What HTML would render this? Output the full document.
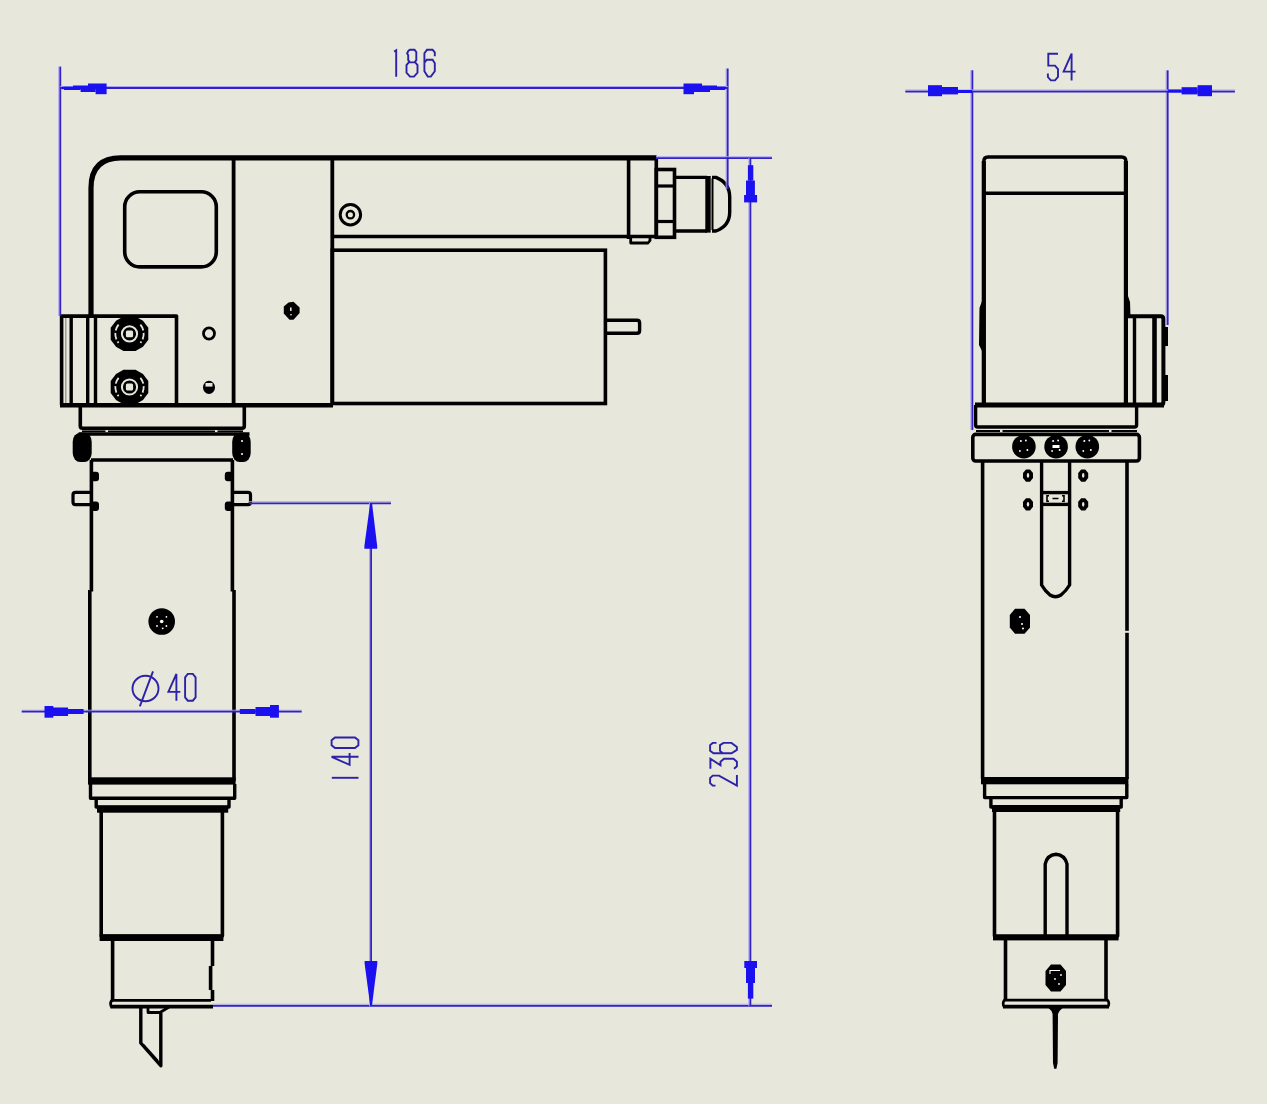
<!DOCTYPE html>
<html><head><meta charset="utf-8"><title>drawing</title>
<style>html,body{margin:0;padding:0;background:#E7E7DB;}svg{display:block;filter:blur(0.5px);}</style></head>
<body><svg width="1267" height="1104" viewBox="0 0 1267 1104">
<rect x="0" y="0" width="1267" height="1104" fill="#E7E7DB"/>
<g>
<path d="M91,316 L91,188 Q91,157.9 121,157.9 L656.5,157.9" fill="none" stroke="#000" stroke-width="5.2" stroke-linejoin="round"/>
<line x1="233.6" y1="158" x2="233.6" y2="405" stroke="#000" stroke-width="3.8"/>
<line x1="332.3" y1="158" x2="332.3" y2="405" stroke="#000" stroke-width="3.8"/>
<rect x="124.7" y="191.8" width="91.60" height="75.10" rx="15" fill="none" stroke="#000" stroke-width="3.6"/>
<line x1="332" y1="236.5" x2="656.5" y2="236.5" stroke="#000" stroke-width="3.4"/>
<line x1="656.3" y1="158" x2="656.3" y2="238" stroke="#000" stroke-width="3.6"/>
<line x1="628.6" y1="158" x2="628.6" y2="239" stroke="#000" stroke-width="3.6"/>
<path d="M630.7,238 L630.7,243 L648,243 L650,240.5 L650,238" fill="none" stroke="#000" stroke-width="2.8" stroke-linejoin="round"/>
<rect x="656.3" y="169.5" width="18.20" height="67.80" rx="0" fill="none" stroke="#000" stroke-width="3.6"/>
<line x1="656" y1="186" x2="674.5" y2="186" stroke="#000" stroke-width="3.2"/>
<line x1="656" y1="221.5" x2="674.5" y2="221.5" stroke="#000" stroke-width="3.2"/>
<path d="M674.5,177.4 L707,177.4 M674.5,231 L707,231" fill="none" stroke="#000" stroke-width="3.4" stroke-linejoin="round"/>
<rect x="705.3" y="176" width="5.40" height="56.60" fill="#000"/>
<line x1="712.5" y1="178.5" x2="712.5" y2="230" stroke="#000" stroke-width="2"/>
<path d="M712,177.4 L716,177.4 Q729.7,183 729.7,197 L729.7,212 Q729.7,226 716,231 L712,231" fill="none" stroke="#000" stroke-width="3.4" stroke-linejoin="round"/>
<rect x="332.3" y="250.2" width="273.10" height="153.30" rx="0" fill="none" stroke="#000" stroke-width="3.6"/>
<path d="M605.4,320.3 L637,320.3 Q639.6,320.3 639.6,323 L639.6,330.5 Q639.6,333.3 637,333.3 L605.4,333.3" fill="none" stroke="#000" stroke-width="3.4" stroke-linejoin="round"/>
<circle cx="350.4" cy="214.7" r="10.2" fill="none" stroke="#000" stroke-width="3"/>
<circle cx="350.4" cy="214.7" r="3.7" fill="none" stroke="#000" stroke-width="2.3"/>
<polygon fill="#000" points="288.5,302.5 293.5,301.8 299.6,307.5 299.6,313 293.5,319.8 289.5,319.8 283.8,313.5 283.8,306.5"/>
<rect x="290" y="307.5" width="1.6" height="3.5" fill="#E7E7DB"/><rect x="290.3" y="314" width="1.4" height="1.4" fill="#E7E7DB"/>
<ellipse cx="209" cy="333.5" rx="5.5" ry="5.7" fill="none" stroke="#000" stroke-width="2.8"/>
<ellipse cx="209" cy="387.4" rx="6" ry="6.6" fill="#000"/>
<rect x="205.5" y="383" width="7" height="3.6" fill="#E7E7DB"/>
<path d="M61.6,405 L61.6,316.1 L176.5,316.1 L176.5,405" fill="none" stroke="#000" stroke-width="3.6" stroke-linejoin="round"/>
<line x1="65.8" y1="318" x2="65.8" y2="403" stroke="#8a8a8a" stroke-width="1.2"/>
<line x1="71.2" y1="318" x2="71.2" y2="404" stroke="#000" stroke-width="3.4"/>
<line x1="87.7" y1="318" x2="87.7" y2="404" stroke="#000" stroke-width="3.4"/>
<line x1="95.5" y1="318" x2="95.5" y2="404" stroke="#000" stroke-width="3.4"/>
<line x1="91" y1="186" x2="91" y2="317" stroke="#000" stroke-width="3.8"/>
<path d="M123.5,316.6 L135.5,316.6 L143.0,320.8 L148.3,327.8 L148.3,339.8 L143.0,346.8 L135.5,351.0 L123.5,351.0 L116.0,346.8 L110.7,339.8 L110.7,327.8 L116.0,320.8 Z" fill="#000"/>
<path d="M118.62,324.67 A14.2,14.2 0 0 0 118.62,342.93 M140.38,324.67 A14.2,14.2 0 0 1 140.38,342.93" fill="none" stroke="#E7E7DB" stroke-width="1.8" stroke-dasharray="6.5 2.5"/>
<circle cx="129.5" cy="333.8" r="7.6" fill="none" stroke="#E7E7DB" stroke-width="2"/>
<rect x="125.9" y="330.40000000000003" width="7.2" height="6.8" rx="1.5" fill="#E7E7DB"/>
<path d="M123.5,369.8 L135.5,369.8 L143.0,374.0 L148.3,381.0 L148.3,393.0 L143.0,400.0 L135.5,404.2 L123.5,404.2 L116.0,400.0 L110.7,393.0 L110.7,381.0 L116.0,374.0 Z" fill="#000"/>
<path d="M118.62,377.87 A14.2,14.2 0 0 0 118.62,396.13 M140.38,377.87 A14.2,14.2 0 0 1 140.38,396.13" fill="none" stroke="#E7E7DB" stroke-width="1.8" stroke-dasharray="6.5 2.5"/>
<circle cx="129.5" cy="387.0" r="7.6" fill="none" stroke="#E7E7DB" stroke-width="2"/>
<rect x="125.9" y="383.6" width="7.2" height="6.8" rx="1.5" fill="#E7E7DB"/>
<line x1="60" y1="405.3" x2="333" y2="405.3" stroke="#000" stroke-width="4.6"/>
<path d="M80.3,405 L80.3,426 Q80.3,428.2 82.5,428.2 L242,428.2 Q244.3,428.2 244.3,426 L244.3,405" fill="none" stroke="#000" stroke-width="3.6" stroke-linejoin="round"/>
<line x1="82" y1="431.3" x2="105.5" y2="431.3" stroke="#000" stroke-width="1.8"/>
<line x1="108" y1="431.3" x2="215" y2="431.3" stroke="#000" stroke-width="1.8"/>
<line x1="217.5" y1="431.3" x2="243" y2="431.3" stroke="#000" stroke-width="1.8"/>
<line x1="78.6" y1="434" x2="249.5" y2="434" stroke="#000" stroke-width="3.4"/>
<line x1="91" y1="460" x2="233" y2="460" stroke="#000" stroke-width="3.6"/>
<rect x="72.7" y="432.7" width="19" height="29.4" rx="7.5" ry="9" fill="#000"/>
<rect x="232.2" y="432.7" width="18.5" height="29.4" rx="7.5" ry="9" fill="#000"/>
<circle cx="242" cy="441" r="1" fill="#fff"/><circle cx="242" cy="454" r="1" fill="#fff"/>
<line x1="91.4" y1="460" x2="91.4" y2="591.5" stroke="#000" stroke-width="3.6"/>
<line x1="232.4" y1="460" x2="232.4" y2="591.5" stroke="#000" stroke-width="3.6"/>
<line x1="89.8" y1="590" x2="89.8" y2="781" stroke="#000" stroke-width="3.6"/>
<line x1="234" y1="590" x2="234" y2="781" stroke="#000" stroke-width="3.6"/>
<rect x="91" y="471.8" width="8" height="9.5" rx="3" fill="#000"/>
<rect x="224.8" y="471.8" width="8" height="9.5" rx="3" fill="#000"/>
<rect x="91" y="501.5" width="8" height="9.5" rx="3" fill="#000"/>
<rect x="224.8" y="501.5" width="8" height="9.5" rx="3" fill="#000"/>
<path d="M91,492.4 L75.5,492.4 Q73,492.4 73,495 L73,502 Q73,504.6 75.5,504.6 L91,504.6" fill="none" stroke="#000" stroke-width="3.2" stroke-linejoin="round"/>
<path d="M233,492.4 L248,492.4 Q250.5,492.4 250.5,495 L250.5,502 Q250.5,504.6 248,504.6 L233,504.6" fill="none" stroke="#000" stroke-width="3.2" stroke-linejoin="round"/>
<circle cx="161.7" cy="621.5" r="13.3" fill="#000"/>
<circle cx="161.7" cy="621.5" r="1.8" fill="#fff"/>
<circle cx="157.0" cy="616.8" r="0.9" fill="#fff"/>
<circle cx="166.39999999999998" cy="616.8" r="0.9" fill="#fff"/>
<circle cx="157.0" cy="626.0" r="0.9" fill="#fff"/>
<circle cx="166.39999999999998" cy="626.0" r="0.9" fill="#fff"/>
<circle cx="162.7" cy="628.3" r="0.9" fill="#fff"/>
<rect x="88" y="777.3" width="147.60" height="7.30" fill="#000"/>
<path d="M90.5,784 L90.5,798.3 L234.7,798.3 L234.7,784" fill="none" stroke="#000" stroke-width="3.4" stroke-linejoin="round"/>
<path d="M96.2,798 L96.2,807 L229,807 L229,798" fill="none" stroke="#000" stroke-width="3.4" stroke-linejoin="round"/>
<rect x="97" y="805.8" width="131.20" height="6.90" fill="#000"/>
<path d="M101.2,812 L101.2,936 L222.4,936 L222.4,812" fill="none" stroke="#000" stroke-width="3.6" stroke-linejoin="round"/>
<rect x="99.6" y="934.5" width="123.80" height="6.50" fill="#000"/>
<line x1="112.6" y1="941" x2="112.6" y2="1001" stroke="#000" stroke-width="3.6"/>
<path d="M212.5,941 L212.5,966 M210.6,966 L210.6,990 M212.5,990 L212.5,1001" fill="none" stroke="#000" stroke-width="3.6" stroke-linejoin="round"/>
<line x1="112" y1="1000.4" x2="211" y2="1000.4" stroke="#000" stroke-width="2.8"/>
<line x1="110.5" y1="1006.6" x2="213" y2="1006.6" stroke="#000" stroke-width="3.8"/>
<path d="M112.5,999.5 Q108.8,1003.5 112,1007.5" fill="none" stroke="#000" stroke-width="2.8"/>
<path d="M140.8,1007 L140.8,1043 L160.8,1065.7 L160.8,1013" fill="none" stroke="#000" stroke-width="3.4" stroke-linejoin="round"/>
<line x1="143.5" y1="1044.5" x2="158" y2="1060.5" stroke="#000" stroke-width="1.3"/>
<path d="M148,1007 L148,1012.5 L160,1012.5 L169,1007" fill="none" stroke="#000" stroke-width="2.8" stroke-linejoin="round"/>
<path d="M983.8,405 L983.8,161.5 Q983.8,157 988,157 L1121.6,157 Q1125.9,157 1125.9,161.5 L1125.9,405" fill="none" stroke="#000" stroke-width="3.4" stroke-linejoin="round"/>
<line x1="983.8" y1="161" x2="983.8" y2="405" stroke="#000" stroke-width="4.2"/>
<line x1="1125.9" y1="161" x2="1125.9" y2="405" stroke="#000" stroke-width="4.2"/>
<line x1="984" y1="193.2" x2="1126" y2="193.2" stroke="#000" stroke-width="3.4"/>
<polygon fill="#000" points="982,301 979.5,308 979,345 982,351 983.5,351 983.5,301"/>
<polygon fill="#000" points="1127,293 1127,317 1130.5,317 1130,302"/>
<path d="M1126,316.2 L1160.8,316.2 Q1163.4,316.2 1163.4,319 L1163.4,402 Q1163.4,405 1160.5,405" fill="none" stroke="#000" stroke-width="4" stroke-linejoin="round"/>
<line x1="1134.5" y1="318" x2="1134.5" y2="404" stroke="#000" stroke-width="3.4"/>
<line x1="1154.5" y1="318" x2="1154.5" y2="404" stroke="#000" stroke-width="4.6"/>
<rect x="1163" y="327" width="5.00" height="19.00" fill="#000"/>
<rect x="1163" y="375" width="5.00" height="26.00" fill="#000"/>
<line x1="975" y1="405" x2="1164" y2="405" stroke="#000" stroke-width="5"/>
<path d="M975.6,405 L975.6,425 Q975.6,427 977.6,427 L1134.6,427 Q1136.6,427 1136.6,425 L1136.6,405" fill="none" stroke="#000" stroke-width="3.4" stroke-linejoin="round"/>
<line x1="976" y1="431" x2="1000" y2="431" stroke="#000" stroke-width="2"/>
<line x1="1002.5" y1="431" x2="1109" y2="431" stroke="#000" stroke-width="2"/>
<line x1="1111.5" y1="431" x2="1137" y2="431" stroke="#000" stroke-width="2"/>
<rect x="972.8" y="434.4" width="166.60" height="26.60" rx="3" fill="none" stroke="#000" stroke-width="3.6"/>
<circle cx="1023.9" cy="446.7" r="11.8" fill="#000"/>
<circle cx="1020.9" cy="441" r="1" fill="#fff"/><circle cx="1027.4" cy="450" r="1" fill="#fff"/><circle cx="1025.9" cy="440.5" r="0.9" fill="#fff"/><circle cx="1019.9" cy="451" r="0.9" fill="#fff"/>
<circle cx="1056.1" cy="446.7" r="11.8" fill="#000"/>
<circle cx="1053.1" cy="441" r="1" fill="#fff"/><circle cx="1059.6" cy="450" r="1" fill="#fff"/><circle cx="1058.1" cy="440.5" r="0.9" fill="#fff"/><circle cx="1052.1" cy="451" r="0.9" fill="#fff"/>
<circle cx="1087.3" cy="446.7" r="11.8" fill="#000"/>
<circle cx="1084.3" cy="441" r="1" fill="#fff"/><circle cx="1090.8" cy="450" r="1" fill="#fff"/><circle cx="1089.3" cy="440.5" r="0.9" fill="#fff"/><circle cx="1083.3" cy="451" r="0.9" fill="#fff"/>
<rect x="1052.5" y="445" width="7" height="3" fill="#fff"/>
<line x1="982.6" y1="461" x2="982.6" y2="779" stroke="#000" stroke-width="3.6"/>
<line x1="1127" y1="461" x2="1127" y2="630.8" stroke="#000" stroke-width="3.6"/>
<line x1="1127" y1="632.8" x2="1127" y2="779" stroke="#000" stroke-width="3.6"/>
<path d="M1041.6,461 L1041.6,585 Q1045,591 1050,595 Q1055.5,598.5 1061,595 Q1066,591 1069.6,585 L1069.6,461" fill="none" stroke="#000" stroke-width="3.4" stroke-linejoin="round"/>
<line x1="1041.6" y1="492.6" x2="1069.6" y2="492.6" stroke="#000" stroke-width="3.4"/>
<line x1="1041.6" y1="504.4" x2="1069.6" y2="504.4" stroke="#000" stroke-width="3.4"/>
<path d="M1049,495.8 L1047,495.8 L1047,501.2 L1049,501.2 M1062,495.8 L1064,495.8 L1064,501.2 L1062,501.2 M1052.5,498.5 L1058.5,498.5" fill="none" stroke="#000" stroke-width="1.6"/>
<polygon fill="#000" points="1026,469.4 1030,469.4 1033,472.9 1033,477.9 1030,481.7 1026,481.7 1023,477.9 1023,472.9"/>
<ellipse cx="1028" cy="475.4" rx="1.2" ry="2.4" fill="#E7E7DB"/>
<polygon fill="#000" points="1026,498.3 1030,498.3 1033,501.8 1033,506.8 1030,510.6 1026,510.6 1023,506.8 1023,501.8"/>
<ellipse cx="1028" cy="504.3" rx="1.2" ry="2.4" fill="#E7E7DB"/>
<polygon fill="#000" points="1081.2,469.4 1085.2,469.4 1088.2,472.9 1088.2,477.9 1085.2,481.7 1081.2,481.7 1078.2,477.9 1078.2,472.9"/>
<ellipse cx="1083.2" cy="475.4" rx="1.2" ry="2.4" fill="#E7E7DB"/>
<polygon fill="#000" points="1081.2,498.3 1085.2,498.3 1088.2,501.8 1088.2,506.8 1085.2,510.6 1081.2,510.6 1078.2,506.8 1078.2,501.8"/>
<ellipse cx="1083.2" cy="504.3" rx="1.2" ry="2.4" fill="#E7E7DB"/>
<polygon fill="#000" points="1015,608.7 1024.5,608.7 1030,615 1030,627.5 1024.5,633.7 1015,633.7 1009.8,627.5 1009.8,615"/>
<circle cx="1020" cy="617" r="1" fill="#fff"/><circle cx="1022" cy="624" r="1" fill="#fff"/><circle cx="1023" cy="628.5" r="1" fill="#fff"/>
<rect x="981" y="777" width="147.40" height="7.30" fill="#000"/>
<path d="M984.6,784 L984.6,797.6 L1126.8,797.6 L1126.8,784" fill="none" stroke="#000" stroke-width="3.4" stroke-linejoin="round"/>
<path d="M990.9,797.5 L990.9,807 L1121.2,807 L1121.2,797.5" fill="none" stroke="#000" stroke-width="3.4" stroke-linejoin="round"/>
<rect x="992" y="805" width="128.20" height="7.00" fill="#000"/>
<path d="M994.5,812 L994.5,936 L1117.6,936 L1117.6,812" fill="none" stroke="#000" stroke-width="3.6" stroke-linejoin="round"/>
<rect x="993" y="935" width="125.60" height="5.40" fill="#000"/>
<path d="M1045.2,937 L1045.2,864 Q1047,855 1056,854.2 Q1065,855 1067,864 L1067,937" fill="none" stroke="#000" stroke-width="3.4" stroke-linejoin="round"/>
<line x1="1005.5" y1="940" x2="1005.5" y2="1001" stroke="#000" stroke-width="3.6"/>
<line x1="1106" y1="940" x2="1106" y2="1001" stroke="#000" stroke-width="3.6"/>
<line x1="1004" y1="1000.2" x2="1108" y2="1000.2" stroke="#000" stroke-width="2.8"/>
<line x1="1003" y1="1006.6" x2="1109" y2="1006.6" stroke="#000" stroke-width="3.8"/>
<path d="M1005,999.5 Q1001.5,1003 1004.5,1007.5 M1107,999.5 Q1110.5,1003 1107.5,1007.5" fill="none" stroke="#000" stroke-width="2.6"/>
<polygon fill="#000" points="1051,964.5 1060.5,964.5 1066,971 1066,985 1060.5,991.5 1051,991.5 1045.5,985 1045.5,971"/>
<path d="M1050,974 L1050,970.5 L1060,970.5" fill="none" stroke="#fff" stroke-width="1.1"/><circle cx="1061" cy="975" r="0.9" fill="#fff"/><circle cx="1055" cy="979" r="0.9" fill="#fff"/><circle cx="1059" cy="984" r="0.9" fill="#fff"/>
<polygon fill="#000" points="1046.5,1006 1064.5,1006 1059.5,1011 1058,1014 1057.6,1063 1056.4,1068.8 1054.2,1068.8 1053,1063 1052.6,1014 1051.5,1011"/>
</g>
<line x1="58.8" y1="66.6" x2="58.8" y2="316" stroke="#ACA4F2" stroke-width="1.1"/>
<line x1="60.3" y1="66.6" x2="60.3" y2="316" stroke="#3222C4" stroke-width="1.8"/>
<line x1="726.2" y1="68.5" x2="726.2" y2="189" stroke="#ACA4F2" stroke-width="1.1"/>
<line x1="727.7" y1="68.5" x2="727.7" y2="189" stroke="#3222C4" stroke-width="1.8"/>
<line x1="60.3" y1="86.5" x2="727.7" y2="86.5" stroke="#ACA4F2" stroke-width="1.1"/>
<line x1="60.3" y1="88" x2="727.7" y2="88" stroke="#3222C4" stroke-width="1.8"/>
<rect x="62.0" y="86.8" width="11.0" height="2.4" fill="#1A10F0"/>
<rect x="64.0" y="86.8" width="16.6" height="3.2" fill="#1A10F0"/>
<rect x="73.0" y="85.5" width="15.0" height="2.5" fill="#1A10F0"/>
<rect x="80.6" y="88.0" width="15.0" height="4.0" fill="#1A10F0"/>
<rect x="88.0" y="83.5" width="18.6" height="4.5" fill="#1A10F0"/>
<rect x="95.6" y="88.0" width="11.0" height="6.2" fill="#1A10F0"/>
<rect x="717.0" y="86.8" width="9.0" height="2.4" fill="#1A10F0"/>
<rect x="710.0" y="86.8" width="15.0" height="3.2" fill="#1A10F0"/>
<rect x="702.0" y="85.5" width="15.0" height="2.5" fill="#1A10F0"/>
<rect x="694.0" y="88.0" width="16.0" height="4.0" fill="#1A10F0"/>
<rect x="683.5" y="83.5" width="18.5" height="4.5" fill="#1A10F0"/>
<rect x="683.5" y="88.0" width="10.5" height="6.2" fill="#1A10F0"/>
<g fill="none" stroke="#2C22A8" stroke-width="1.9" stroke-linejoin="miter" stroke-miterlimit="3" stroke-linecap="butt"><path transform="translate(393,49.2)" d="M1.2,2.4 L3.2,1 L3.2,27.5"/><path transform="translate(406.5,49.2)" d="M3.5,0.6 L8,0.6 L9.8,2.8 L9.8,11 L8,13.2 L3.5,13.2 L1.7,11 L1.7,6 L0.6,4 L2,1.5 Z M2.2,13.2 L8.8,13.2 L11,16 L11,23.5 L7.5,27.4 L3.5,27.4 L0,23.5 L0,16 Z"/><path transform="translate(423.8,49.2)" d="M11,7 L11,3.2 L8.8,0.6 L3.2,0.6 L0.6,4 L0.6,22 L4,27.4 L7,27.4 L11,22 L11,14 L8.8,10.5 L3,10.5 L0.6,13.5"/></g>
<line x1="970.9" y1="70.3" x2="970.9" y2="430" stroke="#ACA4F2" stroke-width="1.1"/>
<line x1="972.4" y1="70.3" x2="972.4" y2="430" stroke="#3222C4" stroke-width="1.8"/>
<line x1="1166.2" y1="70.3" x2="1166.2" y2="325" stroke="#ACA4F2" stroke-width="1.1"/>
<line x1="1167.7" y1="70.3" x2="1167.7" y2="325" stroke="#3222C4" stroke-width="1.8"/>
<line x1="905.3" y1="90.1" x2="1234.9" y2="90.1" stroke="#ACA4F2" stroke-width="1.1"/>
<line x1="905.3" y1="91.6" x2="1234.9" y2="91.6" stroke="#3222C4" stroke-width="1.8"/>
<rect x="958.0" y="90.0" width="14.0" height="3.0" fill="#1A10F0"/>
<rect x="942.0" y="87.0" width="16.0" height="7.4" fill="#1A10F0"/>
<rect x="928.0" y="85.2" width="14.0" height="11.0" fill="#1A10F0"/>
<rect x="1168.0" y="89.5" width="13.6" height="3.0" fill="#1A10F0"/>
<rect x="1181.6" y="87.2" width="16.0" height="7.2" fill="#1A10F0"/>
<rect x="1197.6" y="85.2" width="14.4" height="11.0" fill="#1A10F0"/>
<g fill="none" stroke="#2C22A8" stroke-width="1.9" stroke-linejoin="miter" stroke-miterlimit="3" stroke-linecap="butt"><path transform="translate(1047.4,53)" d="M10.6,0.8 L0.9,0.8 L0.9,12.6 L7.6,12.6 L10.6,16 L10.6,24 L7.6,27.4 L3.4,27.4 L0.5,24 L0.5,20.5"/><path transform="translate(1063,53)" d="M8.6,27.5 L8.6,0.6 L0.6,18.6 L12.5,18.6"/></g>
<line x1="656" y1="156.7" x2="772" y2="156.7" stroke="#ACA4F2" stroke-width="1.1"/>
<line x1="656" y1="158.2" x2="772" y2="158.2" stroke="#3222C4" stroke-width="1.8"/>
<line x1="213" y1="1004.3" x2="772" y2="1004.3" stroke="#ACA4F2" stroke-width="1.1"/>
<line x1="213" y1="1005.8" x2="772" y2="1005.8" stroke="#3222C4" stroke-width="1.8"/>
<line x1="748.9" y1="158" x2="748.9" y2="1006" stroke="#ACA4F2" stroke-width="1.1"/>
<line x1="750.4" y1="158" x2="750.4" y2="1006" stroke="#3222C4" stroke-width="1.8"/>
<rect x="747.9" y="165.2" width="5.4" height="15.3" fill="#1A10F0"/>
<rect x="746.0" y="180.5" width="8.9" height="14.5" fill="#1A10F0"/>
<rect x="744.1" y="195.0" width="13.0" height="7.4" fill="#1A10F0"/>
<rect x="747.9" y="983.0" width="5.4" height="15.6" fill="#1A10F0"/>
<rect x="746.0" y="968.0" width="9.0" height="15.0" fill="#1A10F0"/>
<rect x="744.3" y="961.0" width="12.7" height="7.0" fill="#1A10F0"/>
<g fill="none" stroke="#2C22A8" stroke-width="1.9" stroke-linejoin="miter" stroke-miterlimit="3" stroke-linecap="butt"><path transform="translate(709.5,786.1) rotate(-90)" d="M0.5,6 L0.5,3.2 L3,0.6 L8,0.6 L10.5,3.2 L10.5,9.5 L0.5,27.4 L11,27.4"/><path transform="translate(709.5,769.3) rotate(-90)" d="M0.5,0.9 L10.5,0.9 L4,11 L7.6,11 L10.5,14.5 L10.5,24 L7.6,27.4 L3,27.4 L0.5,24.5"/><path transform="translate(709.5,753.9) rotate(-90)" d="M11,7 L11,3.2 L8.8,0.6 L3.2,0.6 L0.6,4 L0.6,22 L4,27.4 L7,27.4 L11,22 L11,14 L8.8,10.5 L3,10.5 L0.6,13.5"/></g>
<line x1="249" y1="501.8" x2="391" y2="501.8" stroke="#ACA4F2" stroke-width="1.1"/>
<line x1="249" y1="503.3" x2="391" y2="503.3" stroke="#3222C4" stroke-width="1.8"/>
<line x1="369.6" y1="503" x2="369.6" y2="1006" stroke="#ACA4F2" stroke-width="1.1"/>
<line x1="371.1" y1="503" x2="371.1" y2="1006" stroke="#3222C4" stroke-width="1.8"/>
<polygon fill="#1A10F0" points="370.2,503 372,503 377.2,546 377.2,548.7 364.4,548.7 364.4,546"/>
<polygon fill="#1A10F0" points="370.2,1005.6 372,1005.6 377.3,963.5 377.3,961 364.6,961 364.6,963.5"/>
<g fill="none" stroke="#2C22A8" stroke-width="1.9" stroke-linejoin="miter" stroke-miterlimit="3" stroke-linecap="butt"><path transform="translate(331,781) rotate(-90)" d="M3.2,0.8 L3.2,27.5"/><path transform="translate(331,765.4) rotate(-90)" d="M8.6,27.5 L8.6,0.6 L0.6,18.6 L12.5,18.6"/><path transform="translate(331,748.3) rotate(-90)" d="M3,0.6 L8,0.6 L10.8,4 L10.8,24 L8,27.4 L3,27.4 L0.3,24 L0.3,4 Z"/></g>
<line x1="21.7" y1="710.2" x2="301.7" y2="710.2" stroke="#ACA4F2" stroke-width="1.1"/>
<line x1="21.7" y1="711.7" x2="301.7" y2="711.7" stroke="#3222C4" stroke-width="1.8"/>
<rect x="68.1" y="709.0" width="15.5" height="5.0" fill="#1A10F0"/>
<rect x="53.0" y="707.5" width="15.1" height="8.5" fill="#1A10F0"/>
<rect x="44.5" y="706.0" width="8.8" height="11.7" fill="#1A10F0"/>
<rect x="239.8" y="709.0" width="15.7" height="5.0" fill="#1A10F0"/>
<rect x="255.5" y="707.0" width="14.9" height="9.0" fill="#1A10F0"/>
<rect x="270.0" y="705.0" width="8.9" height="12.7" fill="#1A10F0"/>
<g fill="none" stroke="#2C22A8" stroke-width="1.9"><ellipse cx="145.5" cy="688.5" rx="13" ry="12.8"/><path d="M153,671.3 L139.8,706.4"/></g>
<g fill="none" stroke="#2C22A8" stroke-width="1.9" stroke-linejoin="miter" stroke-miterlimit="3" stroke-linecap="butt"><path transform="translate(167.8,673.3)" d="M8.6,27.5 L8.6,0.6 L0.6,18.6 L12.5,18.6"/><path transform="translate(184.8,673.3)" d="M3,0.6 L8,0.6 L10.8,4 L10.8,24 L8,27.4 L3,27.4 L0.3,24 L0.3,4 Z"/></g>
</svg></body></html>
